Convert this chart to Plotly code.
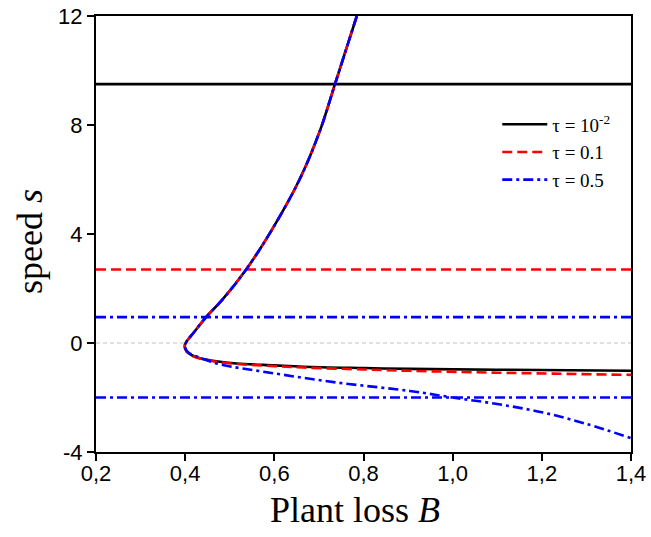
import plotly.graph_objects as go

# ---- data ----
# shared upper branch (top -> nose)
upper_B = [0.785, 0.736, 0.703, 0.656, 0.590, 0.536, 0.483, 0.448, 0.418, 0.403, 0.399]
upper_s = [12.0, 9.5, 7.82, 5.98, 4.03, 2.68, 1.58, 0.97, 0.36, 0.05, -0.12]

# lower branches (nose -> right edge)
black_low_B = [0.403, 0.415, 0.433, 0.470, 0.515, 0.600, 0.665, 0.800, 0.904, 1.100, 1.400]
black_low_s = [-0.30, -0.45, -0.56, -0.67, -0.75, -0.82, -0.87, -0.92, -0.95, -0.98, -1.02]

red_low_B = [0.403, 0.415, 0.433, 0.470, 0.515, 0.600, 0.665, 0.800, 0.904, 1.100, 1.400]
red_low_s = [-0.30, -0.46, -0.57, -0.69, -0.77, -0.85, -0.90, -0.97, -1.02, -1.09, -1.17]

blue_low_B = [0.403, 0.410, 0.430, 0.478, 0.590, 0.740, 0.904, 1.000, 1.100, 1.200, 1.300, 1.400]
blue_low_s = [-0.28, -0.38, -0.52, -0.78, -1.09, -1.45, -1.76, -2.00, -2.24, -2.54, -2.97, -3.49]

# horizontal reference speeds
black_levels = [9.5]
red_levels = [2.7]
blue_levels = [0.95, -2.0]
zero_level = [0.0]

labels = ["\u03c4 = 10<sup>-2</sup>", "\u03c4 = 0.1", "\u03c4 = 0.5"]
x_tickvals = [0.2, 0.4, 0.6, 0.8, 1.0, 1.2, 1.4]
x_ticktext = ["0,2", "0,4", "0,6", "0,8", "1,0", "1,2", "1,4"]
y_tickvals = [-4, 0, 4, 8, 12]
y_ticktext = ["-4", "0", "4", "8", "12"]
x_title = "Plant loss <i>B</i>"
y_title = "speed <i>s</i>"

x_range = [0.2, 1.4]
y_range = [-4, 12]

fig = go.Figure()

# zero line
for v in zero_level:
    fig.add_trace(go.Scatter(x=x_range, y=[v, v], mode="lines", showlegend=False,
                             line=dict(color="#c0c0c0", width=1, dash="4px,3px"), hoverinfo="skip"))

# horizontal levels
for v in black_levels:
    fig.add_trace(go.Scatter(x=x_range, y=[v, v], mode="lines", showlegend=False,
                             line=dict(color="black", width=2.6)))
for v in red_levels:
    fig.add_trace(go.Scatter(x=x_range, y=[v, v], mode="lines", showlegend=False,
                             line=dict(color="#ff0000", width=2.6, dash="10px,5px")))
for v in blue_levels:
    fig.add_trace(go.Scatter(x=x_range, y=[v, v], mode="lines", showlegend=False,
                             line=dict(color="#0000ff", width=2.6, dash="10px,4px,3px,4px")))

# curves
fig.add_trace(go.Scatter(x=upper_B + black_low_B, y=upper_s + black_low_s, mode="lines",
                         name=labels[0], legendgroup="a", line=dict(color="black", width=2.6, shape="spline")))
fig.add_trace(go.Scatter(x=upper_B + red_low_B, y=upper_s + red_low_s, mode="lines",
                         name=labels[1], legendgroup="b",
                         line=dict(color="#ff0000", width=2.6, dash="10px,5px", shape="spline")))
fig.add_trace(go.Scatter(x=upper_B + blue_low_B, y=upper_s + blue_low_s, mode="lines",
                         name=labels[2], legendgroup="c",
                         line=dict(color="#0000ff", width=2.6, dash="10px,4px,3px,4px", shape="spline")))

axis_common = dict(showgrid=False, zeroline=False, showline=True, linecolor="black", linewidth=2,
                   mirror=True, ticks="outside", ticklen=7, tickwidth=1.5, tickcolor="black",
                   automargin=False, ticklabeloverflow="allow",
                   tickfont=dict(family="Liberation Sans, Arial", size=22, color="black"))

fig.update_layout(
    width=651, height=537, autosize=False,
    margin=dict(l=96, r=20, t=16, b=85),
    paper_bgcolor="white", plot_bgcolor="white",
    showlegend=True,
    legend=dict(x=0.75, y=0.795, xanchor="left", yanchor="top",
                font=dict(family="Liberation Serif, Times New Roman", size=19, color="black"),
                bgcolor="rgba(0,0,0,0)", tracegroupgap=0, traceorder="grouped", itemwidth=45),
    xaxis=dict(range=x_range, tickvals=x_tickvals, ticktext=x_ticktext,
               ticklabelstandoff=-6, **axis_common),
    yaxis=dict(range=y_range, tickvals=y_tickvals, ticktext=y_ticktext, **axis_common),
    annotations=[
        dict(text=x_title, xref="paper", yref="paper", x=0.484, y=-0.133,
             xanchor="center", yanchor="middle", showarrow=False,
             font=dict(family="Liberation Serif, Times New Roman", size=36, color="black")),
        dict(text=y_title, xref="paper", yref="paper", x=-0.123, y=0.482,
             xanchor="center", yanchor="middle", showarrow=False, textangle=-90,
             font=dict(family="Liberation Serif, Times New Roman", size=36, color="black")),
    ],
)

fig.write_html("out.html", config={"displayModeBar": False},
               post_script="document.body.style.margin='0';document.body.style.overflow='hidden';")
